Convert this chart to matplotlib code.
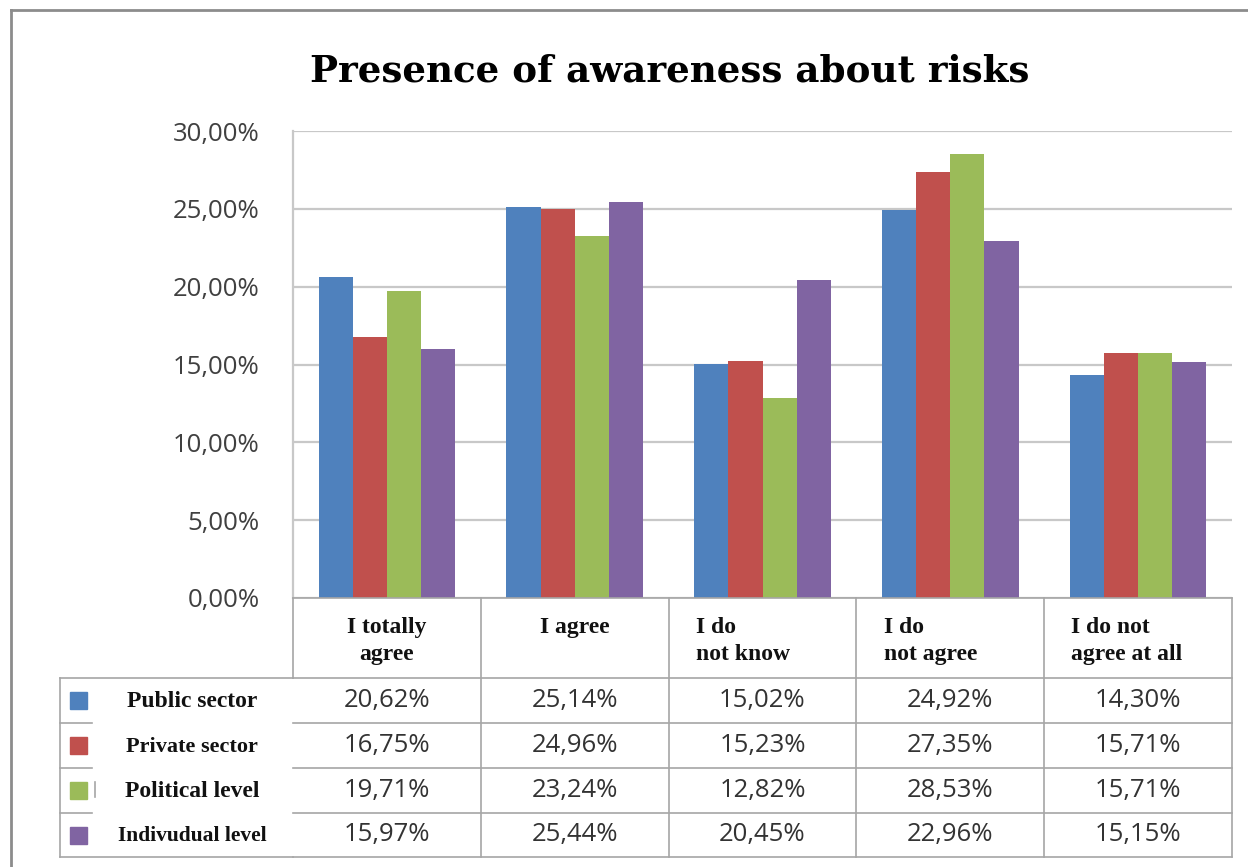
import numpy as np
import matplotlib.pyplot as plt
from matplotlib.transforms import blended_transform_factory
from matplotlib.lines import Line2D
from matplotlib.patches import Rectangle

# data
categories = ["I totally\nagree", "I agree", "I do\nnot know", "I do\nnot agree", "I do not\nagree at all"]
series = ["Public sector", "Private sector", "Political level", "Indivudual level"]
public = [20.62, 25.14, 15.02, 24.92, 14.30]
private = [16.75, 24.96, 15.23, 27.35, 15.71]
political = [19.71, 23.24, 12.82, 28.53, 15.71]
individual = [15.97, 25.44, 20.45, 22.96, 15.15]
yticks = [0, 5, 10, 15, 20, 25, 30]

values = [public, private, political, individual]
colors = ["#4F81BD", "#C0504D", "#9BBB59", "#8064A2"]

def pct(v):
    return f"{v:.2f}".replace(".", ",") + "%"

W, H = 1248, 867
fig = plt.figure(figsize=(W / 100, H / 100), dpi=100)

def fx(p):
    return p / W

def fy(p):
    return 1 - p / H

ax = fig.add_axes([fx(293), fy(598), fx(1232) - fx(293), fy(131) - fy(598)])

x = np.arange(len(categories))
bw = 1 / 5.5
for i, (vals, c) in enumerate(zip(values, colors)):
    ax.bar(x + (i - 1.5) * bw, vals, bw, color=c, zorder=3)

ax.set_xlim(-0.5, len(categories) - 0.5)
ax.set_ylim(0, 30)
ax.set_yticks(yticks)
ax.set_yticklabels([pct(t) for t in yticks], fontfamily="Open Sans",
                   fontsize=18.5, color="#404040")
ax.tick_params(axis="y", length=0, pad=24)
ax.set_xticks([])
ax.grid(axis="y", color="#C8C8C8", lw=1.6, zorder=0)
for s in ["top", "right", "bottom"]:
    ax.spines[s].set_visible(False)
ax.spines["left"].set_color("#C8C8C8")
ax.spines["left"].set_linewidth(1.6)

fig.text(fx(670), fy(72), "Presence of awareness about risks", ha="center",
         va="center", fontfamily="DejaVu Serif", fontweight="bold", fontsize=26.8)

# table under the bars, columns follow the x axis
tr = blended_transform_factory(ax.transData, fig.transFigure)
lc = "#A6A6A6"
lw = 1.2

def hline(x0, x1, y, t):
    fig.add_artist(Line2D([x0, x1], [fy(y), fy(y)], color=lc, lw=lw, transform=t))

def vline(xv, y0, y1, t):
    fig.add_artist(Line2D([xv, xv], [fy(y0), fy(y1)], color=lc, lw=lw, transform=t))

rows = [678, 723, 768, 813, 857]
left = -0.5
right = len(categories) - 0.5

hline(fx(60), fx(293), rows[0], fig.transFigure)
hline(fx(60), fx(293), rows[-1], fig.transFigure)
for r in rows[1:-1]:
    hline(fx(60), fx(92), r, fig.transFigure)
for r in rows:
    hline(left, right, r, tr)
hline(left, right, 598, tr)
vline(fx(60), rows[0], rows[-1], fig.transFigure)
vline(left, 598, rows[0], tr)
for k in range(1, len(categories) + 1):
    vline(k - 0.5, 598, rows[-1], tr)
vline(fx(95), 782, 797, fig.transFigure)

for k, cat in enumerate(categories):
    if k < 2:
        fig.text(k, fy(617), cat, transform=tr, ha="center", va="top",
                 fontfamily="Liberation Serif", fontweight="bold", fontsize=17,
                 color="#111111", linespacing=1.4)
    else:
        fig.text(k - 0.5 + 0.145, fy(617), cat, transform=tr, ha="left", va="top",
                 fontfamily="Liberation Serif", fontweight="bold", fontsize=17,
                 color="#111111", linespacing=1.4)

label_sizes = [17, 16, 17, 15.5]
for j, (name, vals, c) in enumerate(zip(series, values, colors)):
    yc = (rows[j] + rows[j + 1]) / 2
    fig.add_artist(Rectangle((fx(70), fy(yc + 8.5)), fx(17), 17 / H,
                             color=c, transform=fig.transFigure))
    fig.text(fx(192), fy(yc + 1), name, ha="center", va="center",
             fontfamily="Liberation Serif", fontweight="bold",
             fontsize=label_sizes[j], color="#111111")
    for k, v in enumerate(vals):
        fig.text(k, fy(yc), pct(v), transform=tr, ha="center", va="center",
                 fontfamily="Open Sans", fontsize=18.5, color="#333333")

# outer frame
fig.add_artist(Line2D([fx(11), fx(11)], [fy(10), 0], color="#8C8C8C", lw=2,
                      transform=fig.transFigure))
fig.add_artist(Line2D([fx(11), 1], [fy(10), fy(10)], color="#8C8C8C", lw=2,
                      transform=fig.transFigure))

fig.savefig("out.png", dpi=100)
